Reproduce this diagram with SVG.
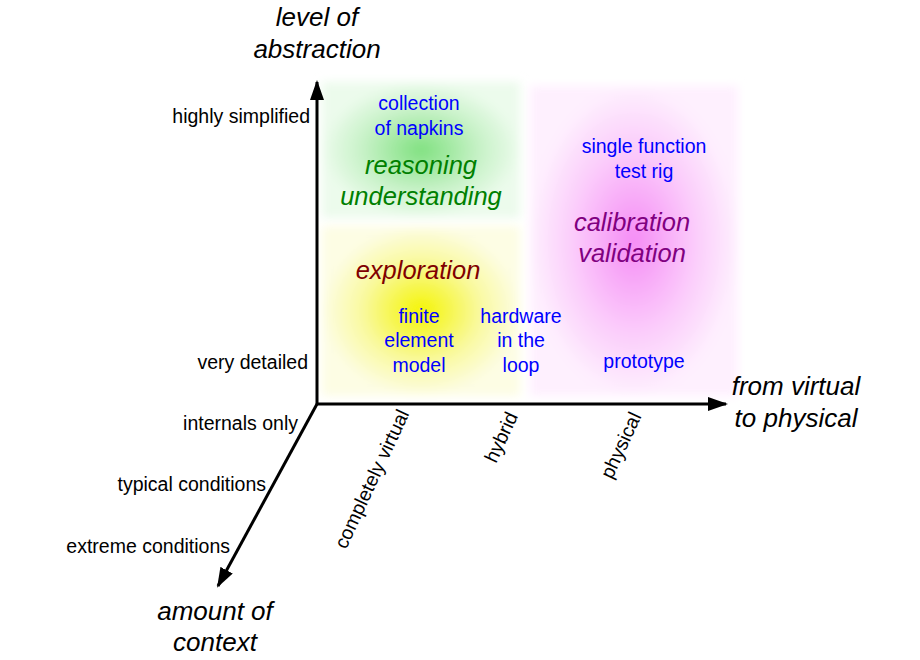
<svg xmlns="http://www.w3.org/2000/svg" width="920" height="660" viewBox="0 0 920 660">
<style>
text{font-family:"Liberation Sans",Arial,sans-serif}
.ax{font-size:26px;font-style:italic;fill:#000;text-anchor:middle}
.tk{font-size:19.5px;fill:#000}
.bl{font-size:19.5px;fill:#0000ff;text-anchor:middle}
.big{font-size:25.5px;font-style:italic;text-anchor:middle}
.line{stroke:#000;stroke-width:3;fill:none}
</style>
<defs>
<marker id="a" markerWidth="20" markerHeight="14" refX="18" refY="7" orient="auto" markerUnits="userSpaceOnUse"><path d="M0,0 L20,7 L0,14 z" fill="#000"/></marker>
<radialGradient id="gg"><stop offset="0" stop-color="#7fe07f"/><stop offset="0.6" stop-color="#c8f2c8"/><stop offset="1" stop-color="#ecfbec"/></radialGradient>
<radialGradient id="yg"><stop offset="0" stop-color="#f4f400"/><stop offset="0.6" stop-color="#f9f9a0"/><stop offset="1" stop-color="#fdfde4"/></radialGradient>
<radialGradient id="mg"><stop offset="0" stop-color="#f58cf5"/><stop offset="0.6" stop-color="#fbcdfb"/><stop offset="1" stop-color="#fef0fe"/></radialGradient>
<filter id="bl" x="-20%" y="-20%" width="140%" height="140%"><feGaussianBlur stdDeviation="5"/></filter>
</defs>
<g id="regions">
<rect x="322" y="82" width="198" height="136" fill="url(#gg)" filter="url(#bl)"/>
<rect x="322" y="226" width="198" height="170" fill="url(#yg)" filter="url(#bl)"/>
<rect x="530" y="86" width="208" height="310" fill="url(#mg)" filter="url(#bl)"/>
</g>
<g id="connectors">
<line class="line" x1="317" y1="404" x2="317" y2="82" marker-end="url(#a)"/>
<line class="line" x1="317" y1="404" x2="726" y2="404" marker-end="url(#a)"/>
<line class="line" x1="317" y1="404" x2="218" y2="586" marker-end="url(#a)"/>
</g>
<g id="axis-labels">
<text class="ax" x="317" y="26">level of</text>
<text class="ax" x="317" y="58">abstraction</text>
<text class="ax" x="796" y="395">from virtual</text>
<text class="ax" x="796" y="427">to physical</text>
<text class="ax" x="215" y="620">amount of</text>
<text class="ax" x="215" y="651">context</text>
</g>
<g id="ticks">
<text class="tk" x="310" y="123" text-anchor="end">highly simplified</text>
<text class="tk" x="308" y="369" text-anchor="end">very detailed</text>
<text class="tk" x="298" y="430" text-anchor="end">internals only</text>
<text class="tk" x="266" y="491" text-anchor="end">typical conditions</text>
<text class="tk" x="230" y="553" text-anchor="end">extreme conditions</text>
<text class="tk" transform="translate(346,550) rotate(-65)">completely virtual</text>
<text class="tk" transform="translate(496,464) rotate(-65)">hybrid</text>
<text class="tk" transform="translate(612,480) rotate(-65)">physical</text>
</g>
<g id="green"><text class="bl" x="419" y="110">collection</text><text class="bl" x="419" y="135">of napkins</text>
<text class="big" x="421" y="174" fill="#008000">reasoning</text><text class="big" x="421" y="205" fill="#008000">understanding</text></g>
<g id="yellow"><text class="big" x="418" y="279" fill="#800000">exploration</text>
<text class="bl" x="419" y="323">finite</text><text class="bl" x="419" y="347">element</text><text class="bl" x="419" y="372">model</text>
<text class="bl" x="521" y="323">hardware</text><text class="bl" x="521" y="347">in the</text><text class="bl" x="521" y="372">loop</text></g>
<g id="magenta"><text class="bl" x="644" y="153">single function</text><text class="bl" x="644" y="178">test rig</text>
<text class="big" x="632" y="231" fill="#800080">calibration</text><text class="big" x="632" y="262" fill="#800080">validation</text>
<text class="bl" x="644" y="368">prototype</text></g>
</svg>
